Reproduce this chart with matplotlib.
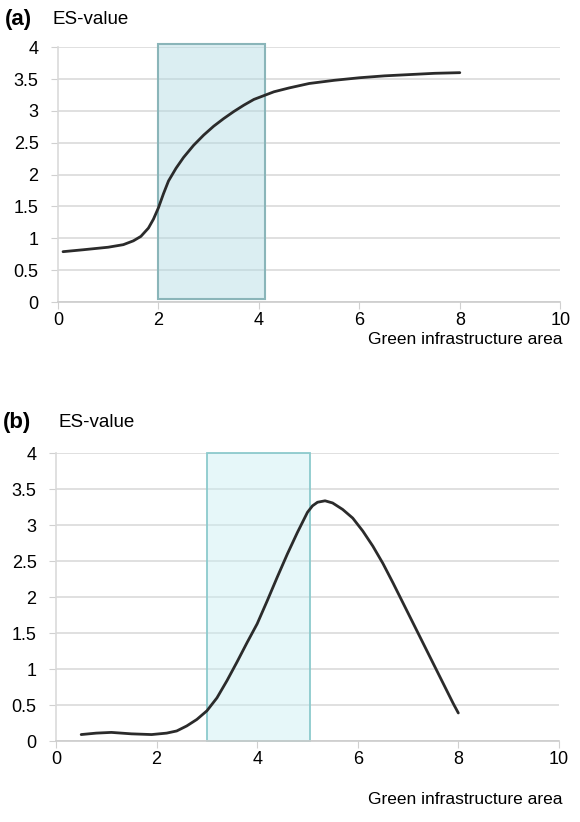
import matplotlib
matplotlib.use("Agg")
import matplotlib.pyplot as plt
from matplotlib.patches import Rectangle

plt.rcParams['font.family'] = ['Liberation Sans', 'DejaVu Sans']

# panel (a): saturating curve
a_x = [0.1, 0.5, 1.0, 1.3, 1.5, 1.65, 1.8, 1.9, 2.0, 2.1, 2.2, 2.35, 2.5, 2.7,
       2.9, 3.1, 3.3, 3.5, 3.7, 3.9, 4.1, 4.3, 4.6, 5.0, 5.5, 6.0, 6.5, 7.0,
       7.5, 8.0]
a_y = [0.79, 0.82, 0.86, 0.9, 0.96, 1.03, 1.16, 1.3, 1.48, 1.7, 1.9, 2.1, 2.27,
       2.46, 2.62, 2.76, 2.88, 2.99, 3.09, 3.18, 3.24, 3.3, 3.36, 3.43, 3.48,
       3.52, 3.55, 3.57, 3.59, 3.6]
a_band = (2.0, 4.12)

# panel (b): hump-shaped curve
b_x = [0.5, 0.8, 1.1, 1.5, 1.9, 2.2, 2.4, 2.6, 2.8, 3.0, 3.2, 3.4, 3.6, 3.8,
       4.0, 4.2, 4.4, 4.6, 4.8, 5.0, 5.1, 5.2, 5.35, 5.5, 5.7, 5.9, 6.1, 6.3,
       6.5, 6.7, 6.9, 7.1, 7.3, 7.5, 7.7, 7.9, 8.0]
b_y = [0.09, 0.11, 0.12, 0.10, 0.09, 0.11, 0.14, 0.21, 0.3, 0.42, 0.6, 0.84,
       1.1, 1.37, 1.63, 1.95, 2.28, 2.6, 2.9, 3.18, 3.27, 3.32, 3.34, 3.31,
       3.22, 3.1, 2.92, 2.71, 2.47, 2.2, 1.92, 1.64, 1.36, 1.08, 0.8, 0.52, 0.39]
b_band = (3.0, 5.05)

y_ticks = [0, 0.5, 1, 1.5, 2, 2.5, 3, 3.5, 4]
y_labels = ['0', '0.5', '1', '1.5', '2', '2.5', '3', '3.5', '4']
x_ticks = [0, 2, 4, 6, 8, 10]


def style_axis(ax):
    ax.set_xlim(0, 10)
    ax.set_ylim(0, 4)
    ax.set_yticks(y_ticks)
    ax.set_yticklabels(y_labels)
    ax.set_xticks(x_ticks)
    ax.grid(axis='y', color='#e0e0e0', linewidth=1.4)
    ax.set_axisbelow(True)
    for side in ['top', 'right']:
        ax.spines[side].set_visible(False)
    ax.spines['left'].set_color('#dadada')
    ax.spines['bottom'].set_color('#cccccc')
    ax.spines['left'].set_linewidth(1.2)
    ax.spines['bottom'].set_linewidth(1.2)
    ax.tick_params(axis='y', length=5, color='#d0d0d0', labelsize=13, pad=9)
    ax.tick_params(axis='x', length=5, color='#d0d0d0', labelsize=13, pad=2.5)


fig = plt.figure(figsize=(5.8, 8.22), dpi=100)

ax1 = fig.add_axes([0.1, 0.6326, 0.866, 0.310])
style_axis(ax1)
ax1.plot(a_x, a_y, color='#2b2b2b', linewidth=2, solid_capstyle='round')
ax1.add_patch(Rectangle((a_band[0], 0.05), a_band[1] - a_band[0], 4.0,
                        facecolor='#b0dbe3', alpha=0.45, edgecolor='none', clip_on=False))
ax1.add_patch(Rectangle((a_band[0], 0.05), a_band[1] - a_band[0], 4.0,
                        facecolor='none', edgecolor='#8ab5b9', linewidth=1.5, clip_on=False))

ax2 = fig.add_axes([0.0966, 0.0985, 0.867, 0.350])
style_axis(ax2)
ax2.plot(b_x, b_y, color='#2b2b2b', linewidth=2, solid_capstyle='round')
ax2.add_patch(Rectangle((b_band[0], 0), b_band[1] - b_band[0], 4.0,
                        facecolor='#c8eef2', alpha=0.45, edgecolor='none', clip_on=False))
ax2.add_patch(Rectangle((b_band[0], 0), b_band[1] - b_band[0], 4.0,
                        facecolor='none', edgecolor='#8ccacd', linewidth=1.3, clip_on=False))

fig.text(0.008, 0.9757, '(a)', fontsize=16, fontweight='bold', va='center')
fig.text(0.091, 0.9757, 'ES-value', fontsize=13.5, va='center')
fig.text(0.005, 0.4866, '(b)', fontsize=16, fontweight='bold', va='center')
fig.text(0.1, 0.4866, 'ES-value', fontsize=13.5, va='center')
fig.text(0.969, 0.587, 'Green infrastructure area', fontsize=12.5, ha='right', va='center')
fig.text(0.969, 0.027, 'Green infrastructure area', fontsize=12.5, ha='right', va='center')

fig.savefig('out.png', dpi=100)
